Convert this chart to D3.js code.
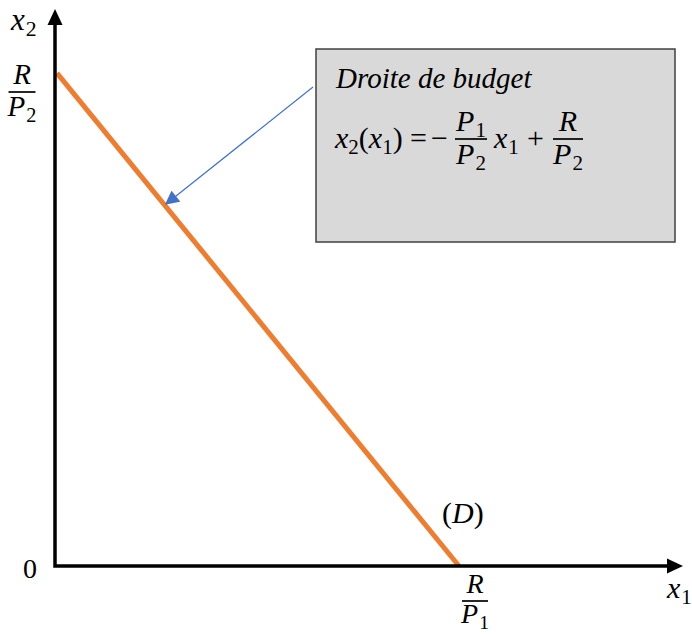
<!DOCTYPE html>
<html>
<head>
<meta charset="utf-8">
<script src="https://cdn.jsdelivr.net/npm/d3@7"></script>
<style>
  body { margin: 0; background: #fff; }
  text { font-family: "Liberation Serif", "Times New Roman", serif; fill: #000; }
  .it { font-style: italic; }
</style>
</head>
<body>
<svg id="chart"></svg>
<script>
// budget constraint: P1*x1 + P2*x2 = R
const R = 120;
const P1 = 3;
const P2 = 2.4;
const x1Max = 62.5;
const x2Max = 56.5;
const budget = [[0, R / P2], [R / P1, 0]];

const W = 692, H = 634;
const svg = d3.select("#chart").attr("width", W).attr("height", H);

const x = d3.scaleLinear().domain([0, x1Max]).range([55, 683]);
const y = d3.scaleLinear().domain([0, x2Max]).range([566, 9]);

// budget line (orange)
svg.append("path")
    .datum(budget)
    .attr("fill", "none")
    .attr("stroke", "#ED7D31")
    .attr("stroke-width", 5)
    .attr("d", d3.line().x(d => x(d[0]) + 2).y(d => y(d[1])));

// axes
const ah = 16, aw = 7.5;
svg.append("path")
    .attr("fill", "none")
    .attr("stroke", "#000")
    .attr("stroke-width", 3.5)
    .attr("stroke-linejoin", "miter")
    .attr("d", `M${x(0)},${y(x2Max) + ah} L${x(0)},${y(0)} L${x(x1Max) - ah},${y(0)}`);
svg.append("path")
    .attr("fill", "#000")
    .attr("d", `M${x(0)},${y(x2Max)} L${x(0) - aw},${y(x2Max) + ah} L${x(0) + aw},${y(x2Max) + ah}Z`);
svg.append("path")
    .attr("fill", "#000")
    .attr("d", `M${x(x1Max)},${y(0)} L${x(x1Max) - ah},${y(0) - aw} L${x(x1Max) - ah},${y(0) + aw}Z`);

// helpers for math-ish text
function sym(g, px, py, base, sub, size) {
  const t = g.append("text").attr("x", px).attr("y", py).attr("font-size", size);
  t.append("tspan").attr("class", "it").text(base);
  if (sub) t.append("tspan").attr("font-size", size * 0.7).attr("dy", size * 0.2).attr("dx", 1).text(sub);
  return t;
}
function frac(g, cx, barY, num, numSub, den, denSub, size, barW, gap) {
  g.append("line").attr("x1", cx - barW / 2).attr("x2", cx + barW / 2)
    .attr("y1", barY).attr("y2", barY).attr("stroke", "#000").attr("stroke-width", 1.7);
  sym(g, cx, barY - 8, num, numSub, size).attr("text-anchor", "middle");
  sym(g, cx, barY + (gap || size * 0.82), den, denSub, size).attr("text-anchor", "middle");
}

const g = svg.append("g");

// axis labels
sym(g, 11, 30, "x", "2", 31);
sym(g, 667, 598, "x", "1", 30);
frac(g, 22, 92, "R", null, "P", "2", 29, 27);
frac(g, 475, 601, "R", null, "P", "1", 28, 26, 22);
g.append("text").attr("x", 23).attr("y", 578).attr("font-size", 28).text("0");

const dl = g.append("text").attr("x", 442).attr("y", 523).attr("font-size", 30);
dl.append("tspan").text("(");
dl.append("tspan").attr("class", "it").text("D");
dl.append("tspan").text(")");

// annotation box
svg.append("rect")
    .attr("x", 316).attr("y", 49).attr("width", 359).attr("height", 193)
    .attr("fill", "#D9D9D9").attr("stroke", "#404040").attr("stroke-width", 1.5);

g.raise();
const bx = svg.append("g");
bx.append("text").attr("class", "it").attr("x", 336).attr("y", 88)
    .attr("font-size", 29).text("Droite de budget");

const fs = 30, base = 148, bar = 139;
const eq = bx.append("text").attr("x", 335).attr("y", base).attr("font-size", fs);
eq.append("tspan").attr("class", "it").text("x");
eq.append("tspan").attr("font-size", fs * 0.7).attr("dy", 6).text("2");
eq.append("tspan").attr("dy", -6).text("(");
eq.append("tspan").attr("class", "it").text("x");
eq.append("tspan").attr("font-size", fs * 0.7).attr("dy", 6).text("1");
eq.append("tspan").attr("dy", -6).text(")");
bx.append("text").attr("x", 410).attr("y", base).attr("font-size", fs).text("=");
bx.append("text").attr("x", 431).attr("y", base).attr("font-size", fs).text("\u2212");
frac(bx, 471, bar, "P", "1", "P", "2", fs, 32);
sym(bx, 494, base, "x", "1", fs);
bx.append("text").attr("x", 527).attr("y", base).attr("font-size", fs).text("+");
frac(bx, 568, bar, "R", null, "P", "2", fs, 30);

// pointer arrow (blue)
svg.append("defs").append("marker")
    .attr("id", "ah").attr("viewBox", "0 0 10 10").attr("refX", 9).attr("refY", 5)
    .attr("markerWidth", 15).attr("markerHeight", 14).attr("markerUnits", "userSpaceOnUse")
    .attr("orient", "auto")
    .append("path").attr("d", "M0,0 L10,5 L0,10Z").attr("fill", "#4472C4");
svg.append("line")
    .attr("x1", 313).attr("y1", 87).attr("x2", 166).attr("y2", 204)
    .attr("stroke", "#4472C4").attr("stroke-width", 1.2)
    .attr("marker-end", "url(#ah)");
</script>
</body>
</html>
